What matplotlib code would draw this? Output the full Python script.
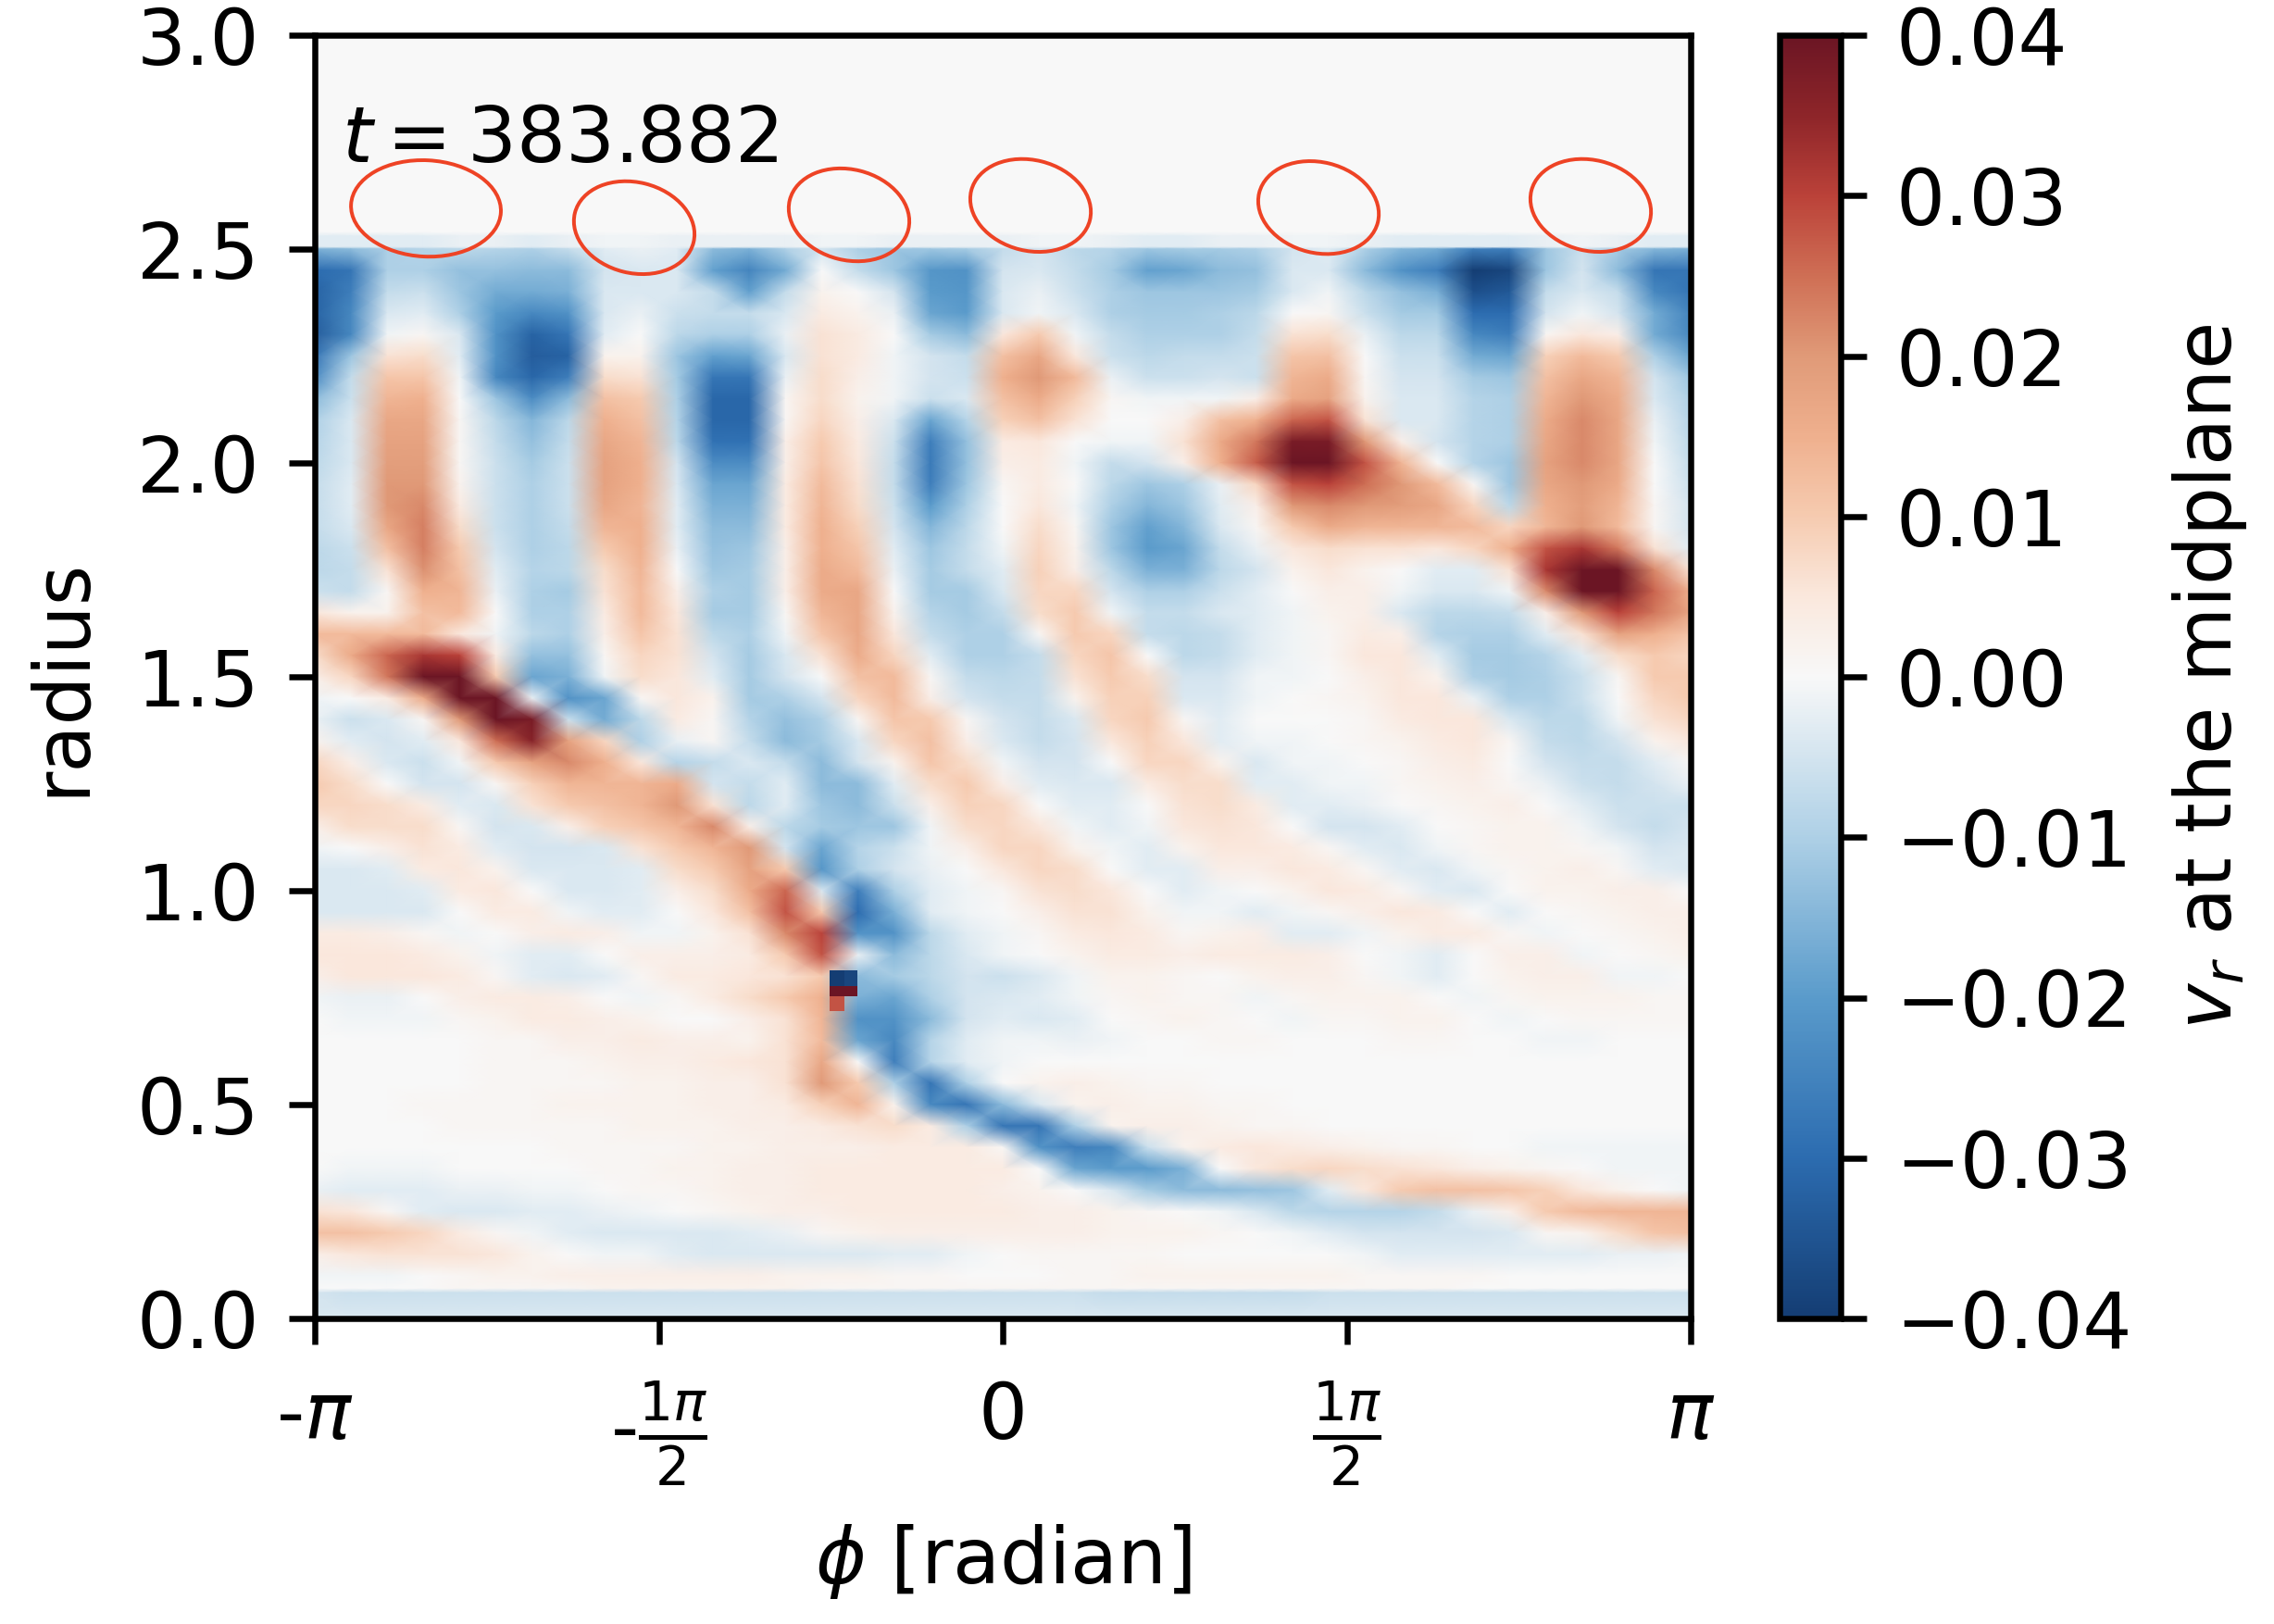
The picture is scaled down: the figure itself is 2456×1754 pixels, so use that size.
import numpy as np
import matplotlib
matplotlib.use("Agg")
import matplotlib.pyplot as plt
from matplotlib.colors import LinearSegmentedColormap
from matplotlib.patches import Ellipse
from matplotlib.transforms import IdentityTransform

# radial velocity at the midplane, in units of 0.001, one list per radius
# columns run evenly from phi = -pi to phi = pi
row_300 = [0] * 39
row_254 = [0] * 39
row_253 = [-3,-3,-3,-3,-2,-2,-3,-2,-1,-1,-2,-2,-2, -2,-1,-1,-2,-2,-2,-2,-1,-1,-2,-3,-3,-2, -2,-1,-1,-2,-3,-3,-3,-3,-2,-1,-2,-3,-3]
row_2505 = [-3,-3,-3,-3,-2,-2,-3,-2,-1,-1,-2,-2,-2, -2,-1,-1,-2,-2,-2,-2,-1,-1,-2,-3,-3,-2, -2,-1,-1,-2,-3,-3,-3,-3,-2,-1,-2,-3,-3]
row_250 = [-16,-14,-10,-9,-8,-9,-10,-7,-3,-2,-3,-14,-16, -10,-5,-10,-12,-12,-11,-7,-5,-8,-9,-12,-11,-11, -10,-5,-3,-10,-15,-17,-26,-26,-12,-6,-11,-15,-16]
row_245 = [-30,-28,-10,-10,-13,-13,-14,-14,-5,-4,-4,-19,-25, -17,0,-7,-12,-21,-22,-5,-4,-7,-11,-19,-18,-14, -13,-4,-4,-14,-22,-26,-40,-38,-12,-5,-14,-28,-28]
row_240 = [-32,-26,-7,-6,-12,-17,-17,-16,-4,-4,-4,-7,-19, -7,2,0,-5,-20,-21,-4,-2,-6,-10,-12,-12,-12, -11,-4,-1,-8,-13,-16,-36,-34,-7,-4,-7,-24,-28]
row_235 = [-32,-24,-4,-3,-10,-20,-24,-22,-4,-2,-6,-7,-7, -4,4,2,-2,-18,-20,-4,-1,-4,-10,-11,-11,-10, -8,0,1,-6,-11,-11,-30,-30,-5,-1,-5,-17,-25]
row_230 = [-33,-24,-1,1,-4,-22,-32,-28,-3,0,-8,-10,-10, -2,6,4,0,-11,-14,5,10,-1,-7,-10,-10,-10, -7,6,7,-2,-8,-8,-24,-26,1,5,3,-17,-24]
row_225 = [-28,-12,6,7,-3,-22,-33,-32,2,2,-12,-19,-18, -4,6,4,-1,-5,-7,12,17,5,-6,-8,-7,-7, -6,11,12,0,-6,-6,-17,-18,9,13,10,-10,-18]
row_220 = [-23,-7,11,11,-1,-24,-31,-26,7,6,-11,-28,-28, -2,7,3,-1,-5,-6,15,20,13,-2,-6,-6,-5, -6,14,16,1,-5,-5,-11,-12,12,17,14,-5,-12]
row_215 = [-14,-6,14,15,0,-12,-23,-14,12,10,-10,-31,-31, 1,7,2,-1,-6,-4,12,16,9,1,-1,-1,-1, 3,16,18,2,-4,-4,-9,-10,14,20,16,-4,-10]
row_210 = [-10,-4,17,17,1,-8,-15,-8,15,12,-9,-31,-31, 1,8,3,-4,-18,-9,9,12,6,0,0,3,12, 15,26,28,6,-4,-4,-9,-10,16,22,17,-2,-9]
row_205 = [-9,-4,18,18,1,-7,-13,-7,17,14,-8,-29,-29, 3,10,4,-6,-26,-13,4,5,0,-1,-1,6,16, 24,38,38,20,3,-5,-9,-10,17,22,17,-1,-8]
row_200 = [-8,-4,19,19,1,-6,-11,-6,18,15,-5,-23,-23, 3,11,5,-7,-27,-13,3,4,-1,-7,-5,3,15, 27,42,42,28,14,0,-9,-12,18,22,17,0,-7]
row_195 = [-7,-3,20,20,2,-6,-10,-6,18,15,-4,-18,-18, 4,13,6,-7,-26,-12,1,4,0,-8,-12,-10,-2, 8,28,30,25,20,13,1,-12,17,20,16,0,-6]
row_190 = [-7,-3,20,22,4,-6,-10,-6,17,14,-3,-16,-16, 4,14,7,-6,-20,-10,0,5,-1,-10,-15,-12,-3, 3,20,22,20,19,17,8,-8,15,19,14,1,-5]
row_185 = [-7,-4,17,23,7,-6,-10,-7,14,15,-3,-14,-14, 4,15,9,-5,-15,-8,0,7,1,-12,-19,-15,-4, 1,10,16,14,14,14,13,8,14,20,13,1,-5]
row_180 = [-8,-6,12,23,10,-5,-10,-8,10,15,-2,-13,-12, 3,15,11,-3,-12,-7,-1,8,2,-12,-20,-18,-7, -2,5,7,6,6,5,8,15,28,32,24,6,-3]
row_175 = [-8,-7,6,21,12,-3,-9,-8,7,14,0,-12,-11, 3,16,13,-2,-11,-7,-3,9,3,-8,-16,-16,-8, -5,2,5,2,0,-3,-3,6,32,44,40,22,6]
row_170 = [-6,-7,1,15,14,-2,-10,-11,6,13,3,-10,-11, 3,16,17,0,-11,-11,-4,8,8,-5,-10,-10,-6, -3,0,3,3,-1,-4,-4,-1,22,42,44,26,15]
row_165 = [5,2,2,12,13,0,-10,-10,4,13,5,-11,-11, 1,14,17,2,-9,-11,-7,7,10,-1,-7,-7,-4, -3,-1,2,3,-4,-8,-8,-7,3,20,30,24,17]
row_160 = [13,13,13,13,5,-1,-8,-10,3,11,6,-8,-10, -1,11,17,5,-7,-10,-10,1,10,8,-7,-8,-7, -3,-1,1,4,3,-9,-10,-10,-3,6,18,15,11]
row_155 = [7,16,26,32,30,4,-13,-13,1,8,6,-5,-11, -4,6,16,8,-3,-10,-10,-7,8,11,0,-8,-7, -3,-1,1,5,5,-3,-11,-11,-9,-3,7,10,8]
row_150 = [3,8,24,40,42,10,-18,-16,-1,7,5,-3,-11, -5,0,12,13,1,-7,-8,-7,6,10,7,-5,-5, -1,-1,0,3,5,2,-10,-11,-10,-6,1,10,10]
row_145 = [-1,0,4,16,42,42,-2,-22,-18,1,5,2,-11, -10,-5,8,13,3,-5,-7,-7,2,9,9,-4,-4, -1,0,1,2,5,5,-2,-10,-10,-6,0,8,10]
row_140 = [-2,-6,-4,1,20,42,38,-6,-17,-8,4,1,-9, -13,-10,1,11,10,1,-5,-7,-4,8,10,1,-3, 0,0,0,1,4,5,5,-4,-8,-8,-1,6,8]
row_135 = [2,-3,-5,-3,5,25,36,18,8,-10,-2,1,-7, -14,-11,-4,8,12,3,-4,-7,-5,5,9,5,-3, -1,-1,0,1,2,4,5,1,-7,-8,-5,2,5]
row_130 = [8,3,-4,-6,-1,10,18,22,15,5,-9,-7,-4, -7,-14,-5,2,11,7,-1,-5,-5,0,8,8,2, -4,-1,-1,0,1,3,4,0,-5,-7,-7,-3,1]
row_125 = [10,7,0,-5,-5,1,9,14,14,14,16,-5,-7, -3,-14,-14,-3,7,10,3,-3,-4,-4,4,7,7, -3,-3,-1,-1,1,2,3,1,-2,-6,-7,-5,-2]
row_120 = [8,8,7,4,-3,-4,6,10,12,14,20,6,-8, -3,-12,-14,-6,3,9,8,0,-3,-3,0,6,7, 4,-3,-3,-2,0,1,2,3,0,-3,-6,-6,-6]
row_115 = [3,7,7,7,1,-5,-4,3,9,11,14,22,3, -8,-11,-12,-12,-1,7,8,5,-1,-3,-1,5,6, 5,0,-5,-5,-3,0,1,2,2,-1,-5,-7,-5]
row_110 = [-1,0,3,6,4,-3,-5,-5,-4,6,10,14,20, -5,-18,-9,-6,-1,3,8,8,2,-1,-3,2,5, 5,4,1,-3,-4,-1,1,2,2,1,-1,-5,-4]
row_105 = [-4,-4,-3,4,5,2,-4,-4,-4,-3,7,10,18, 10,-21,-10,-5,-2,0,5,8,7,0,-3,-3,3, 3,5,4,1,-3,-4,-1,1,2,3,1,-3,-4]
row_100 = [-4,-4,-4,-3,4,5,0,-4,-4,-3,3,7,16, 26,-4,-26,-10,-3,-1,1,6,7,5,0,-3,-1, 0,2,5,4,1,-3,-4,0,2,2,3,3,0]
row_095 = [-4,-4,-4,-4,0,4,4,-1,-3,-3,0,5,12, 28,10,-30,-16,-3,-1,0,3,6,6,2,-1,-1, -3,-1,1,3,5,4,0,-3,0,1,2,3,3]
row_090 = [4,4,3,1,-1,0,3,4,3,-1,-1,2,6, 22,30,-22,-22,-8,-3,-1,1,4,5,4,1,2, 3,-3,-3,-1,2,4,4,1,-1,0,1,2,3]
row_085 = [5,5,5,4,2,-1,-3,-3,0,3,3,3,4, 10,28,-2,-14,-8,-4,-1,0,2,4,4,3,4, 4,4,3,0,-1,-3,0,3,3,-1,0,1,2]
row_080 = [3,5,5,5,4,1,-3,-4,-3,1,4,4,5, 6,10,-14,-11,-8,-5,-6,-4,-1,2,2,1,0, 2,3,3,1,-1,-3,0,2,3,3,-1,-1,0]
row_075 = [-1,-2,-2,0,3,4,4,3,0,-1,1,4,7, 10,15,-16,-18,-10,-5,-4,-3,-1,1,2,1,1, -1,1,2,2,2,0,-1,1,2,2,2,1,1]
row_070 = [0,-1,-1,-1,1,2,4,4,3,2,0,0,3, 6,14,-22,-22,-14,-5,-3,-4,-3,0,1,2,1, 0,-1,1,1,2,2,0,-1,0,1,1,1,1]
row_065 = [0,0,0,0,0,1,1,3,3,4,3,3,2, 6,13,-18,-24,-9,-3,-1,-1,-2,-1,0,0,1, 1,0,0,0,1,1,0,0,-1,-1,0,0,0]
row_060 = [0,0,0,0,0,1,1,1,2,3,3,4,5, 6,17,0,-26,-9,-3,-1,0,0,0,0,0,0, 0,0,0,0,0,0,0,0,0,0,0,0,0]
row_055 = [0,0,0,0,0,1,1,1,1,2,2,3,3, 6,20,10,-10,-28,-10,0,2,3,2,1,1,0, 0,0,0,0,0,0,0,0,0,0,0,0,0]
row_050 = [0,0,0,1,1,1,1,2,2,2,2,3,3, 4,9,14,2,-24,-28,-14,-4,2,3,2,2,1, 1,0,0,0,0,0,0,0,0,0,0,0,0]
row_045 = [0,0,0,0,1,1,1,1,1,2,2,2,3, 3,4,6,7,4,-10,-28,-28,-10,2,3,3,2, 1,1,0,0,0,0,0,0,0,0,0,0,0]
row_040 = [0,0,0,0,0,0,0,1,1,1,1,2,2, 3,3,3,4,4,4,1,-22,-26,-24,-6,2,4, 5,4,3,2,1,1,0,0,-1,-1,-1,-1,-1]
row_035 = [0,-1,-1,-1,0,0,0,0,1,1,2,2,3, 3,4,4,4,4,4,4,0,-18,-20,-20,-16,0, 5,7,8,7,6,5,3,2,1,0,-1,-1,-1]
row_030 = [-2,-3,-3,-3,-2,-2,-1,-1,0,1,1,2,3, 3,4,4,4,4,4,3,2,0,-4,-11,-14,-14, -13,-12,-3,5,10,12,12,11,9,5,2,0,-1]
row_025 = [6,5,1,-3,-4,-4,-3,-3,-2,-1,0,1,2, 3,3,4,4,4,4,4,3,3,2,1,0,-1, -4,-8,-9,-9,-9,-7,-2,3,10,13,14,14,14]
row_020 = [12,12,10,8,4,1,-1,-3,-4,-4,-4,-4,-3, -2,1,2,3,3,3,3,3,3,2,2,2,1, 0,-1,-3,-5,-5,-5,-5,-4,1,2,7,11,12]
row_015 = [3,5,6,6,6,5,2,0,-1,-1,-3,-4,-4, -4,-4,-4,-3,-3,-1,0,1,1,1,1,0,0, 0,0,0,-1,-3,-3,-3,-3,-3,-3,-2,-2,-1]
row_010 = [-1,-1,-1,0,1,2,2,3,3,3,3,3,3, 2,2,2,1,1,0,0,0,1,1,2,2,2, 2,2,2,1,1,1,1,0,0,0,0,0,0]
row_007 = [0,0,0,0,1,1,1,1,2,2,2,2,2, 2,1,1,1,1,1,1,1,1,1,1,1,1, 1,1,1,1,1,1,0,0,0,0,0,0,0]
row_006 = [-5,-6,-6,-6,-6,-6,-6,-6,-6,-6,-6,-6,-6, -6,-6,-6,-6,-6,-6,-6,-6,-6,-7,-7,-7,-7, -7,-7,-6,-6,-6,-6,-6,-6,-6,-6,-6,-6,-6]
row_000 = [-4] * 39

radius = [3.0, 2.54, 2.53, 2.505, 2.5, 2.45, 2.4, 2.35, 2.3, 2.25, 2.2, 2.15, 2.1, 2.05, 2.0, 1.95, 1.9, 1.85, 1.8,
          1.75, 1.7, 1.65, 1.6, 1.55, 1.5, 1.45, 1.4, 1.35, 1.3, 1.25, 1.2, 1.15, 1.1, 1.05, 1.0, 0.95, 0.9, 0.85,
          0.8, 0.75, 0.7, 0.65, 0.6, 0.55, 0.5, 0.45, 0.4, 0.35, 0.3, 0.25, 0.2, 0.15, 0.1, 0.07, 0.06, 0.0]
rows = [row_300, row_254, row_253, row_2505, row_250, row_245, row_240, row_235, row_230, row_225, row_220, row_215,
        row_210, row_205, row_200, row_195, row_190, row_185, row_180, row_175, row_170, row_165, row_160, row_155,
        row_150, row_145, row_140, row_135, row_130, row_125, row_120, row_115, row_110, row_105, row_100, row_095,
        row_090, row_085, row_080, row_075, row_070, row_065, row_060, row_055, row_050, row_045, row_040, row_035,
        row_030, row_025, row_020, row_015, row_010, row_007, row_006, row_000]

# the planet sits in a few cells that change sign from one to the next
core_phi = [-0.791, -0.725, -0.665]
core_radius = [0.719, 0.753, 0.776, 0.814]
core_lower = [28, np.nan]
core_middle = [42, 42]
core_upper = [-42, -38]

# hand drawn rings along the outer edge
ring_phi = [-2.634, -1.683, -0.702, 0.127, 1.442, 2.685]
ring_radius = [2.595, 2.550, 2.580, 2.602, 2.597, 2.602]
ring_width = [162, 132, 132, 132, 132, 132]
ring_height = [104, 98, 98, 98, 98, 98]
ring_angle = [-3, -14, -14, -14, -14, -14]

y_ticks = [0.0, 0.5, 1.0, 1.5, 2.0, 2.5, 3.0]
x_ticks = [-np.pi, -np.pi / 2, 0, np.pi / 2, np.pi]
x_tick_labels = ['-$\\pi$', '-$\\frac{1\\pi}{2}$', '0', '$\\frac{1\\pi}{2}$', '$\\pi$']
cbar_ticks = [-0.04, -0.03, -0.02, -0.01, 0.0, 0.01, 0.02, 0.03, 0.04]

# diverging colours, a little duller in the reds than RdBu_r
cmap_levels = [-0.04, -0.03, -0.02, -0.01, 0.0, 0.005, 0.01, 0.015, 0.02, 0.025, 0.03, 0.035, 0.04]
cmap_colors = ['#143d73', '#2c6cb0', '#5a9bcb', '#aed0e6', '#f8f8f8', '#fae8dd', '#f6cbb0', '#efb08e', '#e09a78',
               '#cf6f55', '#bb4239', '#8e2529', '#6b1524']
vr_cmap = LinearSegmentedColormap.from_list(
    'vr', [((v + 0.04) / 0.08, c) for v, c in zip(cmap_levels, cmap_colors)], N=512)

W, H = 2456, 1754
FS = 20
LW = 1.56

plt.rcParams['font.family'] = 'DejaVu Sans'
plt.rcParams['mathtext.fontset'] = 'dejavusans'

fig = plt.figure(figsize=(W / 300, H / 300), dpi=300)
ax = fig.add_axes([340 / W, 1 - 1424 / H, 1486 / W, 1386 / H])
cax = fig.add_axes([1921.5 / W, 1 - 1424 / H, 66 / W, 1386 / H])

phi = np.linspace(-np.pi, np.pi, 39)
vr = np.array(rows, dtype=float) / 1000
mesh = ax.pcolormesh(phi, radius, vr, shading='gouraud', cmap=vr_cmap, vmin=-0.04, vmax=0.04, rasterized=True)
core = np.ma.masked_invalid(np.array([core_lower, core_middle, core_upper]) / 1000)
ax.pcolormesh(core_phi, core_radius, core, shading='flat', cmap=vr_cmap, vmin=-0.04, vmax=0.04)

ax.set_xlim(-np.pi, np.pi)
ax.set_ylim(0, 3)
ax.set_xticks(x_ticks)
ax.set_xticklabels(x_tick_labels)
ax.set_yticks(y_ticks)
ax.set_yticklabels([f'{v:.1f}' for v in y_ticks])
ax.tick_params(labelsize=FS, length=6.8, width=LW, pad=7.5)
ax.tick_params(axis='x', pad=9)
for spine in ax.spines.values():
    spine.set_linewidth(LW)

ax.set_xlabel('$\\phi$ [radian]', fontsize=FS)
ax.xaxis.set_label_coords(0.5, -0.159)
ax.set_ylabel('radius', fontsize=FS)
ax.yaxis.set_label_coords(-0.157, 0.5)

ax.text(-3.018, 2.703, '$t = 383.882$', fontsize=FS, va='baseline', ha='left')

for p, r, w, h, a in zip(ring_phi, ring_radius, ring_width, ring_height, ring_angle):
    centre = ax.transData.transform((p, r))
    ax.add_patch(Ellipse(centre, w, h, angle=a, transform=IdentityTransform(), fill=False,
                         edgecolor='#ee4325', linewidth=0.95, zorder=5))

cbar = fig.colorbar(mesh, cax=cax, ticks=cbar_ticks)
cbar.ax.set_yticklabels([f'{v:.2f}'.replace('-', '\u2212') for v in cbar_ticks])
cbar.ax.tick_params(labelsize=FS, length=6.8, width=LW, pad=7.5)
cbar.outline.set_linewidth(LW)
cbar.set_label('$v_r$ at the midplane', fontsize=FS)
cbar.ax.yaxis.set_label_coords(6.40, 0.5)

fig.savefig('out.png', dpi=300)
